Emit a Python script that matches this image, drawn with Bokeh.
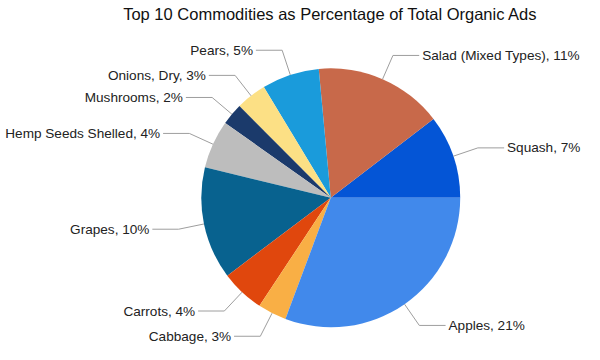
import numpy as np
from bokeh.plotting import figure
from bokeh.models import Range1d, ColumnDataSource
from bokeh.core.properties import value
from bokeh.embed import file_html
from bokeh.resources import INLINE

title_text = "Top 10 Commodities as Percentage of Total Organic Ads"
commodities = ["Squash", "Salad (Mixed Types)", "Pears", "Onions, Dry", "Mushrooms",
               "Hemp Seeds Shelled", "Grapes", "Carrots", "Cabbage", "Apples"]
shares = [7.26, 11.2, 5.0, 2.66, 1.9, 4.2, 9.8, 3.8, 2.5, 21.4]
share_labels = ["7%", "11%", "5%", "3%", "2%", "4%", "10%", "4%", "3%", "21%"]
colors = ["#0455D6", "#C8694A", "#1A9BDB", "#FCE085", "#1B3A6B",
          "#BDBDBD", "#08628F", "#E0470D", "#F9AF45", "#4189EB"]

W, H = 584, 344
scale = W / 600.0
# data units = reference pixels (y up)
x0r, x1r = 0.0, 600.0
y_span = H / scale
y1r = 356.0
y0r = y1r - y_span
cx, cy, r = 339.3, 153.3, 133.0

vals = np.array(shares, dtype=float)
frac = vals / vals.sum()
ends = np.cumsum(frac) * 2 * np.pi
starts = np.concatenate([[0.0], ends[:-1]])
mids = (starts + ends) / 2

p = figure(width=W, height=H, x_range=Range1d(x0r, x1r), y_range=Range1d(y0r, y1r),
           output_backend="svg", toolbar_location=None, min_border=0)
p.axis.visible = False
p.grid.visible = False
p.outline_line_color = None
p.background_fill_color = "white"
p.border_fill_color = "white"

src = ColumnDataSource(dict(start=starts, end=ends, color=colors))
p.wedge(x=cx, y=cy, radius=r, start_angle="start", end_angle="end",
        fill_color="color", line_color=None, source=src)

xs, ys, tx, ty, txt, align = [], [], [], [], [], []
for name, lab, m in zip(commodities, share_labels, mids):
    c, s = np.cos(m), np.sin(m)
    xa, ya = cx + r * c, cy + r * s
    xb, yb = cx + 1.2 * r * c, cy + 1.2 * r * s
    side = 1 if c >= 0 else -1
    xc = xb + side * 27
    xs.append([xa, xb, xc])
    ys.append([ya, yb, yb])
    tx.append(xc + side * 3)
    ty.append(yb)
    txt.append(f"{name}, {lab}")
    align.append("left" if side > 0 else "right")

p.multi_line(xs=xs, ys=ys, line_color="#9e9e9e", line_width=1)
lsrc = ColumnDataSource(dict(x=tx, y=ty, text=txt, align=align))
p.text(x="x", y="y", text="text", text_align="align", text_baseline="middle",
       text_font=value("Liberation Sans"), text_font_size=f"{14*scale:.1f}px",
       text_color="#222222", source=lsrc)

p.text(x=[339], y=[342], text=[title_text], text_align="center", text_baseline="middle",
       text_font=value("Liberation Sans"), text_font_size=f"{17*scale:.1f}px",
       text_color="#111111")

open("out.html", "w").write(file_html(p, INLINE))
